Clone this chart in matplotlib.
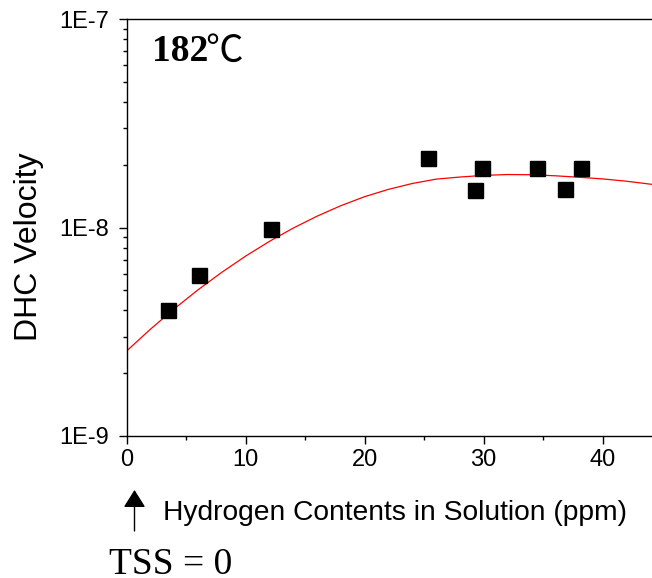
import matplotlib
matplotlib.use('Agg')
import matplotlib.pyplot as plt
from matplotlib.ticker import FixedLocator, FuncFormatter, LogLocator, NullFormatter, MultipleLocator
from matplotlib.patches import ArrowStyle

# Data
h_ppm = [3.45, 6.05, 12.13, 25.3, 29.27, 29.88, 34.5, 36.86, 38.18]
dhc_v = [4.02e-9, 5.91e-9, 9.8e-9, 2.15e-8, 1.52e-8, 1.92e-8, 1.92e-8, 1.53e-8, 1.92e-8]

# Fitted curve, points
fit_x = [0, 2, 4, 6, 8, 10, 12, 14, 16, 18, 20, 22, 24, 26, 28, 30, 32, 34, 36, 38, 40, 42, 44, 45]
fit_y = [2.559e-9, 3.255e-9, 4.076e-9, 5.028e-9, 6.102e-9, 7.295e-9, 8.583e-9, 9.94e-9,
         1.1334e-8, 1.2725e-8, 1.406e-8, 1.524e-8, 1.626e-8, 1.706e-8, 1.746e-8, 1.778e-8,
         1.795e-8, 1.791e-8, 1.770e-8, 1.742e-8, 1.710e-8, 1.667e-8, 1.614e-8, 1.589e-8]

x_ticks = [0, 10, 20, 30, 40]
y_ticks = [1e-9, 1e-8, 1e-7]
y_tick_labels = ['1E-9', '1E-8', '1E-7']

W, H = 652, 578
fig = plt.figure(figsize=(W / 100, H / 100), dpi=100)


def fx(x):
    return x / W


def fy(y):
    return 1 - y / H


ax = fig.add_axes([fx(126.7), fy(436), 45 * 11.9 / W, (436 - 19) / H])
ax.set_yscale('log')
ax.set_xlim(0, 45)
ax.set_ylim(1e-9, 1e-7)

ax.plot(fit_x, fit_y, color='red', lw=0.9, zorder=2)
ax.plot(h_ppm, dhc_v, ls='none', marker='s', ms=10.8, color='black', mec='black', zorder=3)

ax.xaxis.set_major_locator(FixedLocator(x_ticks))
ax.xaxis.set_minor_locator(MultipleLocator(5))
ax.yaxis.set_major_locator(FixedLocator(y_ticks))
ax.yaxis.set_major_formatter(FuncFormatter(
    lambda v, p: y_tick_labels[y_ticks.index(min(y_ticks, key=lambda t: abs(t - v)))]))
ax.yaxis.set_minor_locator(LogLocator(base=10, subs=range(2, 10)))
ax.yaxis.set_minor_formatter(NullFormatter())

for s in ax.spines.values():
    s.set_linewidth(1.0)
ax.spines['right'].set_visible(False)

ax.tick_params(which='major', direction='out', length=5.8, width=1.0, labelsize=17, colors='black')
ax.tick_params(which='minor', direction='out', length=3.0, width=1.0)
ax.tick_params(axis='x', which='major', pad=3.3)
ax.tick_params(axis='y', which='major', pad=7.0)
for lab in ax.get_xticklabels() + ax.get_yticklabels():
    lab.set_fontfamily('Liberation Sans')

# Texts
fig.text(fx(163), fy(513), 'Hydrogen Contents in Solution (ppm)', fontsize=20.3,
         family='Liberation Sans', ha='left', va='center')
fig.text(fx(29), fy(247), 'DHC Velocity', fontsize=23, family='Liberation Sans',
         rotation=90, ha='center', va='center')
fig.text(fx(109), fy(574), 'TSS = 0', fontsize=27, family='Liberation Serif',
         ha='left', va='baseline')
fig.text(fx(152), fy(61), '182', fontsize=27, family='Liberation Serif', weight='bold',
         ha='left', va='baseline')
fig.text(fx(205), fy(62), '\u2103', fontsize=27, family=['Noto Sans CJK SC', 'DejaVu Sans'],
         ha='left', va='baseline')

ax.annotate('', xy=(fx(134.5), fy(490)), xytext=(fx(134.5), fy(531)),
            xycoords='figure fraction', textcoords='figure fraction',
            arrowprops=dict(arrowstyle=ArrowStyle('-|>', head_length=0.54, head_width=0.34),
                            mutation_scale=20, color='black', lw=1.0, shrinkA=0, shrinkB=0))

fig.savefig('out.png', dpi=100)
